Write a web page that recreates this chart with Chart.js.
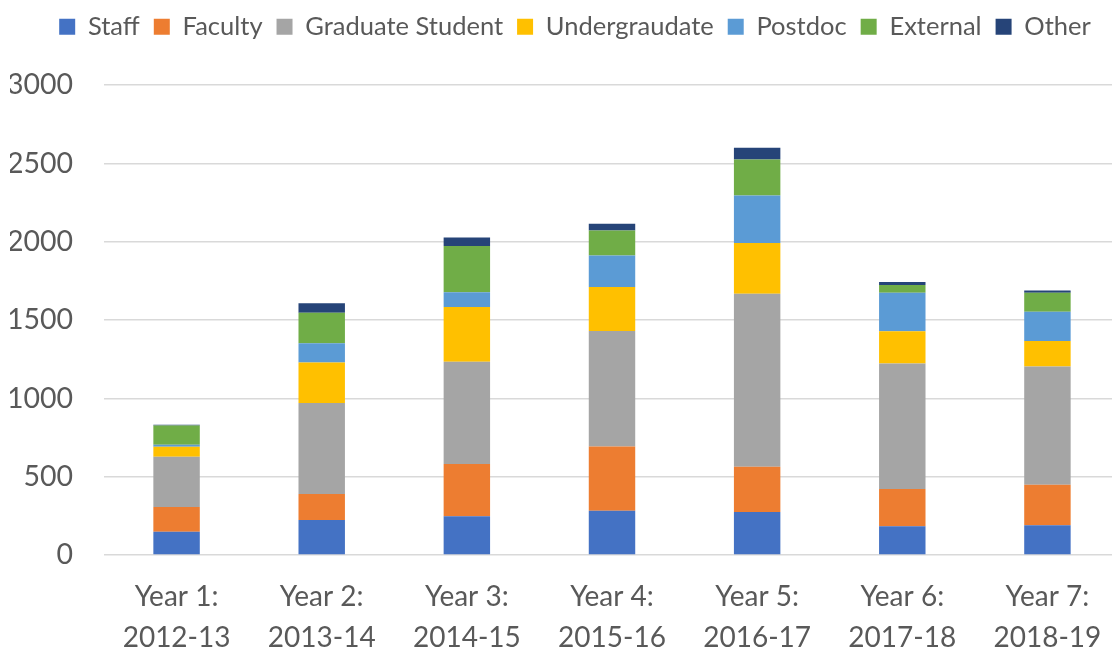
<!DOCTYPE html>
<html lang="en">
<head>
    <meta charset="UTF-8">
    <title>Users by Year</title>
    <script src="https://cdn.jsdelivr.net/npm/chart.js"></script>
    <style>
        body { margin: 0; overflow: hidden; background: #fff; }
        #wrap { width: 1120px; height: 647px; }
    </style>
</head>
<body>
    <div id="wrap"><canvas id="userChart"></canvas></div>
    <script>
        // categories
        const years = [
            ['Year 1:', '2012-13'],
            ['Year 2:', '2013-14'],
            ['Year 3:', '2014-15'],
            ['Year 4:', '2015-16'],
            ['Year 5:', '2016-17'],
            ['Year 6:', '2017-18'],
            ['Year 7:', '2018-19']
        ];

        // series values
        const staff     = [148, 224, 247, 283, 275, 183, 190];
        const faculty   = [159, 166, 334, 410, 289, 239, 259];
        const grad      = [320, 580, 653, 737, 1104, 800, 754];
        const undergrad = [64, 258, 349, 280, 323, 206, 163];
        const postdoc   = [13, 124, 94, 202, 303, 246, 187];
        const external  = [123, 195, 295, 160, 230, 49, 121];
        const other     = [5, 60, 55, 42, 76, 19, 15];

        const seriesNames = ['Staff', 'Faculty', 'Graduate Student', 'Undergraudate', 'Postdoc', 'External', 'Other'];
        const seriesData = [staff, faculty, grad, undergrad, postdoc, external, other];
        const colors = ['#4472c4', '#ed7d31', '#a5a5a5', '#ffc000', '#5b9bd5', '#70ad47', '#264478'];

        const fontFamily = 'Lato, "Noto Sans", sans-serif';

        // make room under the legend and nudge it a bit to the right
        const legendSpace = {
            id: 'legendSpace',
            beforeInit(chart) {
                const fit = chart.legend.fit;
                chart.legend.fit = function () {
                    fit.call(this);
                    this.height = 85;
                };
            },
            afterLayout(chart) {
                chart.legend.left += 10;
                chart.legend.right += 10;
            }
        };

        const ctx = document.getElementById('userChart').getContext('2d');
        new Chart(ctx, {
            type: 'bar',
            data: {
                labels: years,
                datasets: seriesData.map((d, i) => ({
                    label: seriesNames[i],
                    data: d,
                    backgroundColor: colors[i],
                    borderWidth: 0,
                    categoryPercentage: 1.0,
                    barPercentage: 0.32
                }))
            },
            options: {
                responsive: true,
                maintainAspectRatio: false,
                animation: false,
                layout: { padding: { left: 10, right: 0, top: 0, bottom: 0 } },
                scales: {
                    x: {
                        stacked: true,
                        grid: { display: false },
                        border: { display: false },
                        ticks: {
                            color: '#595959',
                            font: { family: fontFamily, size: 28, lineHeight: 1.45 },
                            padding: 14,
                            maxRotation: 0
                        },
                        afterFit(scale) {
                            scale.paddingLeft = 0;
                            scale.paddingRight = 0;
                            scale.height = 92;
                        }
                    },
                    y: {
                        stacked: true,
                        min: 0,
                        max: 3000,
                        grid: { color: '#d9d9d9', lineWidth: 1.5, drawTicks: false },
                        border: { display: false },
                        ticks: {
                            stepSize: 500,
                            color: '#595959',
                            font: { family: fontFamily, size: 28.5 },
                            padding: 31,
                            callback: v => String(v)
                        },
                        afterFit(scale) {
                            scale.width = 94;
                        }
                    }
                },
                plugins: {
                    legend: {
                        position: 'top',
                        labels: {
                            color: '#595959',
                            font: { family: fontFamily, size: 25.5 },
                            boxWidth: 16,
                            boxHeight: 16,
                            padding: 14
                        }
                    },
                    tooltip: { enabled: false }
                }
            },
            plugins: [legendSpace]
        });
    </script>
</body>
</html>
